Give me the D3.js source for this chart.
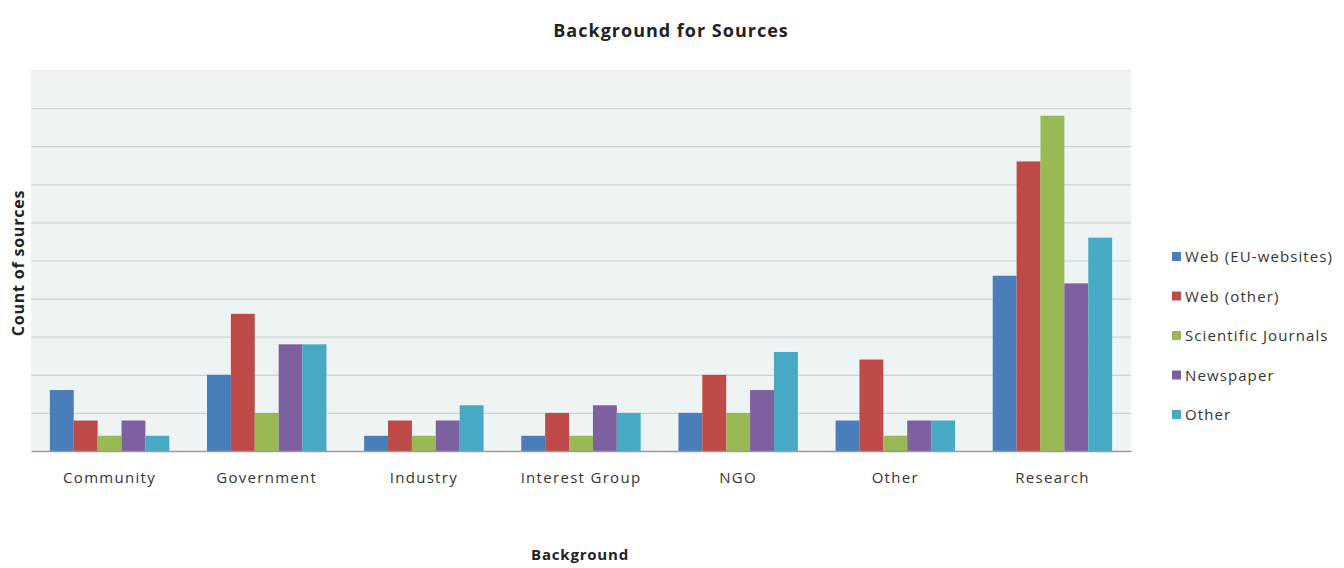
<!DOCTYPE html>
<html>
<head>
<meta charset="utf-8">
<script src="https://cdn.jsdelivr.net/npm/d3@7"></script>
<style>
  html, body { margin: 0; padding: 0; background: #fff; }
  svg { display: block; font-family: "Open Sans", sans-serif; }
</style>
</head>
<body>
<svg id="chart" width="1344" height="568"></svg>
<script>
const categories = ["Community", "Government", "Industry", "Interest Group", "NGO", "Other", "Research"];
const seriesNames = ["Web (EU-websites)", "Web (other)", "Scientific Journals", "Newspaper", "Other"];
const webEU      = [8, 10, 2, 2, 5, 4, 23];
const webOther   = [4, 18, 4, 5, 10, 12, 38];
const sciJournals= [2, 5, 2, 2, 5, 2, 44];
const newspaper  = [4, 14, 4, 6, 8, 4, 22];
const otherSrc   = [2, 14, 6, 5, 13, 4, 28];
const yTicks = [0, 5, 10, 15, 20, 25, 30, 35, 40, 45, 50];
const colors = ["#4a7ebb", "#be4b48", "#98b954", "#7d60a0", "#46aac5"];

const seriesValues = [webEU, webOther, sciJournals, newspaper, otherSrc];

const svg = d3.select("#chart");
const margin = { left: 31, right: 1344 - 1131, top: 70, bottom: 568 - 451 };
const W = 1344, H = 568;

const x0 = d3.scaleBand()
  .domain(categories)
  .range([margin.left, W - margin.right])
  .paddingInner(0.24)
  .paddingOuter(0.12);
const x1 = d3.scaleBand()
  .domain(d3.range(seriesNames.length))
  .range([0, x0.bandwidth()]);
const y = d3.scaleLinear()
  .domain([0, 50])
  .range([H - margin.bottom, margin.top]);

// plot background
svg.append("rect")
  .attr("x", margin.left)
  .attr("y", y(50))
  .attr("width", W - margin.right - margin.left)
  .attr("height", y(0) - y(50))
  .attr("fill", "#eef4f3");

// gridlines
const grid = d3.axisLeft(y).tickValues(yTicks.filter(d => d > 0))
  .tickSize(-(W - margin.right - margin.left)).tickFormat("");
svg.append("g")
  .attr("transform", `translate(${margin.left},0)`)
  .call(grid)
  .call(g => g.select(".domain").remove())
  .call(g => g.selectAll(".tick line")
    .attr("stroke", d => d === 50 ? "#dfe7ea" : "#c9d4da")
    .attr("stroke-width", 1.2));

// bars
const groups = svg.append("g").selectAll("g")
  .data(categories)
  .join("g")
  .attr("transform", d => `translate(${x0(d)},0)`);

groups.selectAll("rect")
  .data((c, ci) => seriesValues.map((vals, si) => ({ si, v: vals[ci] })))
  .join("rect")
  .attr("x", d => x1(d.si))
  .attr("width", x1.bandwidth())
  .attr("y", d => y(d.v))
  .attr("height", d => y(0) - y(d.v))
  .attr("fill", d => colors[d.si]);

// x axis
const xAxis = d3.axisBottom(x0).tickSize(0).tickPadding(21);
svg.append("g")
  .attr("transform", `translate(0,${y(0)})`)
  .call(xAxis)
  .call(g => g.select(".domain").attr("stroke", "#9a9a9a").attr("stroke-width", 1.5))
  .call(g => g.selectAll("text")
    .attr("font-family", "'Open Sans', sans-serif")
    .attr("font-size", 15)
    .attr("letter-spacing", 1.3)
    .attr("fill", "#333"));

// title
svg.append("text")
  .attr("x", 671)
  .attr("y", 37)
  .attr("text-anchor", "middle")
  .attr("font-weight", "bold")
  .attr("font-size", 18)
  .attr("letter-spacing", 1)
  .attr("fill", "#222")
  .text("Background for Sources");

// x title
svg.append("text")
  .attr("x", 580)
  .attr("y", 560)
  .attr("text-anchor", "middle")
  .attr("font-weight", "bold")
  .attr("font-size", 15)
  .attr("letter-spacing", 0.8)
  .attr("fill", "#222")
  .text("Background");

// y title
svg.append("text")
  .attr("transform", "translate(24,263) rotate(-90)")
  .attr("text-anchor", "middle")
  .attr("font-weight", "bold")
  .attr("font-size", 16)
  .attr("letter-spacing", 0.8)
  .attr("fill", "#222")
  .text("Count of sources");

// legend
const legend = svg.append("g").attr("transform", "translate(1172,257)");
const items = legend.selectAll("g")
  .data(seriesNames)
  .join("g")
  .attr("transform", (d, i) => `translate(0,${i * 39.5})`);
items.append("rect")
  .attr("x", 0).attr("y", -5)
  .attr("width", 9).attr("height", 9)
  .attr("fill", (d, i) => colors[i]);
items.append("text")
  .attr("x", 13)
  .attr("y", 0)
  .attr("dy", "0.35em")
  .attr("font-size", 15)
  .attr("letter-spacing", 1.1)
  .attr("fill", "#333")
  .text(d => d);
</script>
</body>
</html>
